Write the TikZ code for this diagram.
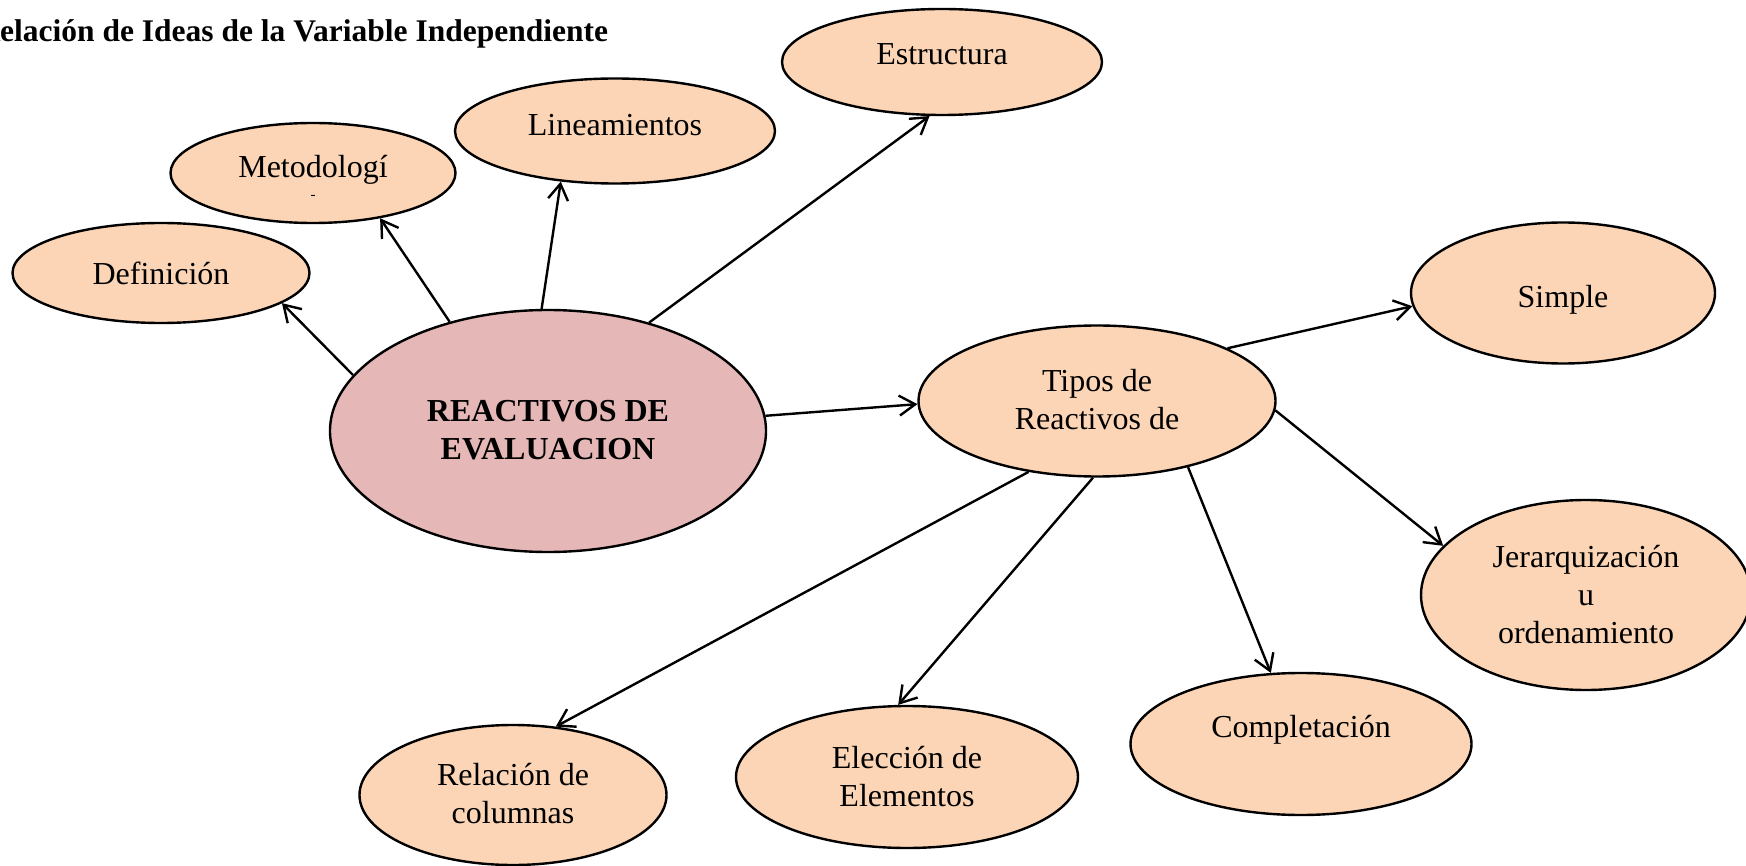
\documentclass[tikz,border=0pt]{standalone}
\usepackage{fontspec}
\setmainfont{Liberation Serif}
\usetikzlibrary{shapes.geometric,arrows.meta}
\definecolor{peach}{HTML}{FBD5B5}
\definecolor{rose}{HTML}{E5B8B7}
\newcommand{\liftx}[2]{\raisebox{#1}[\height][\depth]{#2}}
\begin{document}
\begin{tikzpicture}[x=1pt,y=-1pt,
  bub/.style={ellipse,draw=black,line width=2.4pt,fill=peach,inner sep=0pt,align=center,font=\fontsize{32}{38}\selectfont},
  conn/.style={line width=2.4pt,-{Straight Barb[length=16pt,width=20pt]}}]
\useasboundingbox (0,0) rectangle (1746,866);
\node[anchor=base west,inner sep=0pt,font=\fontsize{31.5}{36}\selectfont\bfseries] (title) at (0,42) {\llap{R}elación de Ideas de la Variable Independiente};

\node[bub,minimum width=320pt,minimum height=106pt] (est) at (942,62) {\liftx{8pt}{Estructura}};
\node[bub,minimum width=320pt,minimum height=105pt] (lin) at (615,131) {\liftx{6pt}{Lineamientos}};
\node[bub,minimum width=285pt,minimum height=100pt] (met) at (313,173) {\liftx{3pt}{Metodologí}};
\node[inner sep=0pt,font=\fontsize{15}{15}\selectfont] (metdash) at (313,197) {-};
\node[bub,minimum width=297pt,minimum height=100pt] (def) at (161,273) {Definición};
\node[bub,fill=rose,minimum width=436pt,minimum height=242pt,font=\fontsize{32}{38}\selectfont\bfseries] (main) at (548,431) {\liftx{-2pt}{\begin{tabular}{@{}c@{}}REACTIVOS DE\\EVALUACION\end{tabular}}};
\node[bub,minimum width=357pt,minimum height=151pt] (tipos) at (1097,401) {\liftx{-2pt}{\begin{tabular}{@{}c@{}}Tipos de\\Reactivos de\end{tabular}}};
\node[bub,minimum width=304pt,minimum height=141pt] (simple) at (1563,293) {\liftx{-7pt}{Simple}};
\node[bub,minimum width=330pt,minimum height=190pt] (jer) at (1586,595) {Jerarquización\\u\\ordenamiento};
\node[bub,minimum width=341pt,minimum height=142pt] (comp) at (1301,744) {\liftx{14pt}{Completación}};
\node[bub,minimum width=342pt,minimum height=142pt] (elec) at (907,777) {\liftx{-3pt}{\begin{tabular}{@{}c@{}}Elección de\\Elementos\end{tabular}}};
\node[bub,minimum width=307pt,minimum height=140pt] (rel) at (513,795) {\liftx{-2pt}{\begin{tabular}{@{}c@{}}Relación de\\columnas\end{tabular}}};

\draw[conn] (main.164) -- (def.-14);
\draw[conn] (main.132) -- (met.-34);
\draw[conn] (main.93) -- (lin.-137);
\draw[conn] (main.47) -- (est.-103);
\draw[conn] (main.4) -- (tipos.181);
\draw[conn] (tipos.22) -- (simple.185);
\draw[conn] (tipos.-3.5) -- (jer.161);
\draw[conn] (tipos.-36) -- (comp.113);
\draw[conn] (tipos.-93) -- (elec.97);
\draw[conn] (tipos.-134) -- (rel.58);
\end{tikzpicture}
\end{document}
